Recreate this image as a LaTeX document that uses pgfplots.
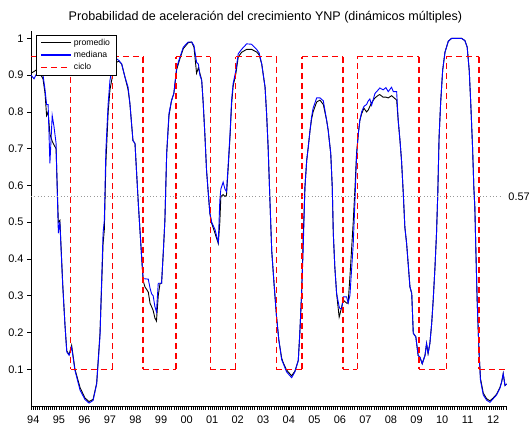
\documentclass[border=0pt]{standalone}
\usepackage{pgfplots}
\pgfplotsset{compat=1.18}
\usepackage{pgfplotstable}
\usepackage{fontspec}
\setmainfont{Liberation Sans}

% year, promedio, mediana
\pgfplotstableread{
yr prom med
1993.91 0.905 0.900
1994.03 0.910 0.890
1994.14 0.915 0.905
1994.26 0.905 0.910
1994.38 0.890 0.900
1994.46 0.850 0.860
1994.52 0.790 0.820
1994.58 0.800 0.820
1994.65 0.740 0.660
1994.74 0.720 0.790
1994.81 0.710 0.760
1994.89 0.700 0.715
1994.98 0.500 0.470
1995.04 0.505 0.500
1995.15 0.334 0.330
1995.24 0.220 0.220
1995.31 0.150 0.147
1995.40 0.140 0.138
1995.50 0.165 0.160
1995.63 0.100 0.097
1995.83 0.050 0.043
1996.02 0.022 0.018
1996.18 0.012 0.008
1996.34 0.018 0.015
1996.48 0.062 0.060
1996.61 0.198 0.190
1996.73 0.440 0.470
1996.78 0.480 0.505
1996.84 0.660 0.695
1996.93 0.800 0.823
1997.00 0.860 0.886
1997.13 0.910 0.935
1997.26 0.935 0.944
1997.35 0.938 0.940
1997.46 0.930 0.930
1997.59 0.894 0.894
1997.71 0.860 0.867
1997.78 0.823 0.823
1997.90 0.722 0.722
1997.98 0.714 0.714
1998.11 0.550 0.550
1998.24 0.405 0.405
1998.30 0.340 0.346
1998.37 0.324 0.346
1998.50 0.310 0.345
1998.57 0.279 0.320
1998.63 0.270 0.305
1998.69 0.260 0.300
1998.76 0.239 0.270
1998.82 0.231 0.256
1998.89 0.300 0.334
1998.96 0.334 0.334
1999.02 0.334 0.334
1999.09 0.420 0.423
1999.15 0.505 0.505
1999.22 0.687 0.687
1999.31 0.790 0.796
1999.41 0.831 0.831
1999.50 0.850 0.850
1999.61 0.915 0.921
1999.74 0.945 0.949
1999.87 0.972 0.976
2000.06 0.988 0.990
2000.20 0.990 0.990
2000.29 0.975 0.980
2000.39 0.905 0.935
2000.46 0.920 0.930
2000.52 0.905 0.900
2000.59 0.886 0.886
2000.65 0.823 0.823
2000.72 0.731 0.731
2000.78 0.641 0.641
2000.85 0.577 0.577
2000.91 0.524 0.524
2000.98 0.497 0.500
2001.11 0.470 0.480
2001.24 0.442 0.445
2001.30 0.500 0.560
2001.34 0.570 0.590
2001.43 0.575 0.609
2001.50 0.570 0.590
2001.56 0.573 0.583
2001.63 0.650 0.660
2001.70 0.735 0.741
2001.76 0.820 0.831
2001.82 0.870 0.877
2001.93 0.905 0.913
2002.02 0.949 0.958
2002.15 0.962 0.970
2002.35 0.970 0.985
2002.54 0.970 0.984
2002.74 0.963 0.970
2002.84 0.955 0.960
2002.94 0.930 0.930
2003.07 0.867 0.867
2003.13 0.795 0.795
2003.19 0.704 0.704
2003.26 0.560 0.560
2003.33 0.423 0.423
2003.42 0.334 0.334
2003.52 0.242 0.242
2003.61 0.179 0.179
2003.72 0.130 0.126
2003.78 0.118 0.116
2003.91 0.098 0.093
2004.11 0.082 0.077
2004.24 0.095 0.093
2004.37 0.124 0.124
2004.43 0.198 0.198
2004.50 0.306 0.306
2004.56 0.450 0.423
2004.63 0.595 0.595
2004.70 0.668 0.668
2004.76 0.704 0.704
2004.83 0.750 0.750
2004.89 0.780 0.786
2004.95 0.800 0.810
2005.09 0.827 0.838
2005.22 0.832 0.838
2005.35 0.820 0.830
2005.48 0.777 0.777
2005.54 0.750 0.750
2005.64 0.687 0.687
2005.70 0.595 0.595
2005.74 0.470 0.470
2005.80 0.378 0.378
2005.87 0.306 0.306
2005.97 0.242 0.270
2006.00 0.250 0.265
2006.07 0.270 0.265
2006.13 0.288 0.297
2006.26 0.280 0.297
2006.32 0.280 0.280
2006.39 0.350 0.300
2006.52 0.500 0.440
2006.59 0.595 0.560
2006.65 0.686 0.680
2006.72 0.741 0.741
2006.78 0.777 0.777
2006.85 0.795 0.800
2006.94 0.810 0.815
2007.04 0.800 0.820
2007.11 0.805 0.830
2007.17 0.815 0.835
2007.24 0.825 0.818
2007.37 0.838 0.850
2007.50 0.845 0.860
2007.56 0.847 0.865
2007.69 0.840 0.860
2007.80 0.840 0.866
2007.89 0.838 0.855
2008.02 0.844 0.867
2008.09 0.840 0.855
2008.22 0.832 0.855
2008.28 0.777 0.777
2008.35 0.722 0.722
2008.41 0.668 0.668
2008.48 0.577 0.577
2008.54 0.487 0.487
2008.61 0.442 0.442
2008.74 0.324 0.324
2008.81 0.306 0.306
2008.87 0.198 0.198
2008.97 0.188 0.188
2009.06 0.138 0.138
2009.13 0.133 0.133
2009.22 0.115 0.115
2009.33 0.138 0.138
2009.39 0.170 0.170
2009.45 0.143 0.143
2009.52 0.170 0.170
2009.59 0.224 0.224
2009.65 0.288 0.288
2009.72 0.378 0.378
2009.78 0.470 0.470
2009.83 0.580 0.580
2009.88 0.731 0.731
2009.94 0.823 0.823
2010.02 0.913 0.913
2010.11 0.962 0.962
2010.24 0.992 0.992
2010.37 1.000 1.000
2010.57 1.000 1.000
2010.76 1.000 1.000
2010.89 0.994 0.994
2010.98 0.976 0.976
2011.06 0.913 0.913
2011.12 0.823 0.823
2011.19 0.704 0.704
2011.24 0.595 0.595
2011.28 0.540 0.540
2011.32 0.423 0.423
2011.37 0.288 0.288
2011.44 0.152 0.152
2011.50 0.075 0.070
2011.61 0.035 0.030
2011.74 0.020 0.016
2011.87 0.014 0.010
2012.00 0.022 0.020
2012.13 0.032 0.030
2012.26 0.050 0.048
2012.33 0.066 0.065
2012.39 0.088 0.088
2012.46 0.056 0.056
2012.52 0.060 0.060
}\probtab

% expansion / contraction cycle, one segment per piece
\pgfplotstableread{
yr c
1993.91 0.95
1995.46 0.95
nan nan
1995.46 0.95
1995.46 0.10
nan nan
1995.46 0.10
1997.11 0.10
nan nan
1997.11 0.10
1997.11 0.95
nan nan
1997.11 0.95
1998.29 0.95
nan nan
1998.29 0.95
1998.29 0.10
nan nan
1998.29 0.10
1999.59 0.10
nan nan
1999.59 0.10
1999.59 0.95
nan nan
1999.59 0.95
2000.93 0.95
nan nan
2000.93 0.95
2000.93 0.10
nan nan
2000.93 0.10
2001.92 0.10
nan nan
2001.92 0.10
2001.92 0.95
nan nan
2001.92 0.95
2003.51 0.95
nan nan
2003.51 0.95
2003.51 0.10
nan nan
2003.51 0.10
2004.51 0.10
nan nan
2004.51 0.10
2004.51 0.95
nan nan
2004.51 0.95
2006.12 0.95
nan nan
2006.12 0.95
2006.12 0.10
nan nan
2006.12 0.10
2006.68 0.10
nan nan
2006.68 0.10
2006.68 0.95
nan nan
2006.68 0.95
2009.09 0.95
nan nan
2009.09 0.95
2009.09 0.10
nan nan
2009.09 0.10
2010.17 0.10
nan nan
2010.17 0.10
2010.17 0.95
nan nan
2010.17 0.95
2011.44 0.95
nan nan
2011.44 0.95
2011.44 0.10
nan nan
2011.44 0.10
2012.52 0.10
}\ciclotab

\definecolor{ciclored}{RGB}{255,0,0}
\definecolor{medblue}{RGB}{0,0,255}

\begin{document}
\begin{tikzpicture}
\begin{axis}[
  at={(31bp,20bp)}, anchor=south west,
  scale only axis, width=476.3bp, height=375bp,
  xmin=1993.91, xmax=2012.55, ymin=0, ymax=1.02,
  axis lines*=left,
  axis line style={line width=0.8bp},
  tick align=outside,
  major tick length=4bp, minor tick length=4bp,
  tick style={black, line width=0.5bp},
  minor tick style={black, line width=0.5bp},
  xtick={1994,...,2012},
  xticklabels={94,95,96,97,98,99,00,01,02,03,04,05,06,07,08,09,10,11,12},
  minor xtick={1993.9167,1994,...,2012.55},
  ytick={0.1,0.2,0.3,0.4,0.5,0.6,0.7,0.8,0.9,1},
  yticklabels={0.1,0.2,0.3,0.4,0.5,0.6,0.7,0.8,0.9,1},
  /pgf/number format/assume math mode=true,
  ticklabel style={font=\fontsize{11}{13}\selectfont},
  xticklabel style={yshift=-2bp},
  clip=false,
  legend style={at={(0.0105,0.989)}, anchor=north west,
    font=\fontsize{8.7}{9}\selectfont,
    inner xsep=4.5bp, inner ysep=1.5bp, row sep=0.6bp, cells={anchor=west}},
  legend image post style={xscale=1.76, line width=1.3bp},
]
\addplot[color=black, line width=0.9bp] table[x=yr, y=prom] {\probtab};
\addlegendentry{promedio}
\addplot[color=medblue, line width=0.9bp] table[x=yr, y=med] {\probtab};
\addlegendentry{mediana}
\addplot[color=ciclored, line width=1.4bp, dash pattern=on 6bp off 4bp,
  unbounded coords=jump,
  legend image code/.code={\draw[ciclored, solid]
    (0bp,0bp) -- (3.4bp,0bp) (5.7bp,0bp) -- (9.1bp,0bp) (11.4bp,0bp) -- (14.8bp,0bp);}]
  table[x=yr, y=c] {\ciclotab};
\addlegendentry{ciclo}
\addplot[gray!80, line width=0.8bp, dash pattern=on 0.8bp off 2.5bp, forget plot] coordinates {(1993.91,0.57) (2012.33,0.57)};
\node[anchor=west, inner sep=0, xshift=6.6bp, font=\fontsize{11}{13}\selectfont] at (axis cs:2012.33,0.57) {0.57};
\end{axis}
\node[anchor=base, inner sep=0, font=\fontsize{12.6}{15}\selectfont] at (265.5bp,405bp) {Probabilidad de aceleración del crecimiento YNP (dinámicos múltiples)};
\pgfresetboundingbox
\useasboundingbox (0,0) rectangle (531bp,426bp);
\end{tikzpicture}
\end{document}
